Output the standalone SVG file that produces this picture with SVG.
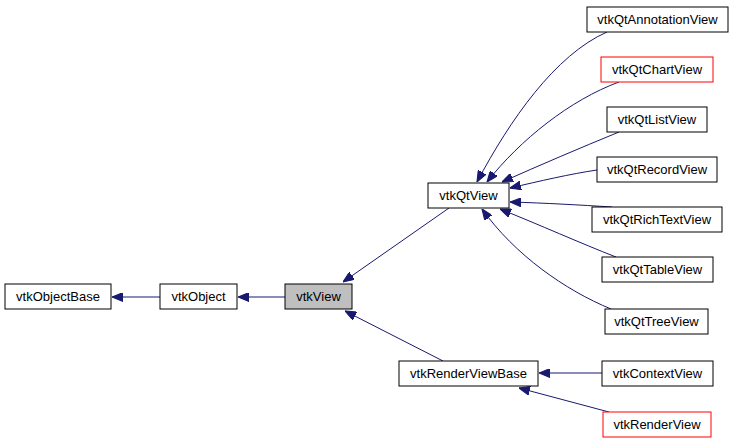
<svg xmlns="http://www.w3.org/2000/svg" width="733" height="443" viewBox="0 0 733 443">
<style>
.n rect{fill:#fff;stroke:#000;stroke-width:1}
.n.red rect{stroke:#ff0000}
.n.cur rect{fill:#bfbfbf}
.n text{font-family:"Liberation Sans",Arial,sans-serif;font-size:13px;text-anchor:middle;fill:#000}
.e path{fill:none;stroke:#191970;stroke-width:1;marker-end:url(#ah)}
</style>
<defs>
<marker id="ah" viewBox="0 0 10 8" refX="10" refY="4" markerWidth="11" markerHeight="9" markerUnits="userSpaceOnUse" orient="auto">
<path d="M0,0 L10,4 L0,8 z" fill="#191970" stroke="#191970"/>
</marker>
</defs>
<rect width="733" height="443" fill="#fff"/>
<g id="edges" class="e">
<path d="M160,297 L112,297"/>
<path d="M285,297 L238,297"/>
<path d="M449,208 L343,282"/>
<path d="M443,361 L345,311"/>
<path d="M602,373 L539,373"/>
<path d="M609,412 L519,388"/>
<path d="M607,32 C555,55 510,120 477,182"/>
<path d="M619,82 C570,100 520,140 487,182"/>
<path d="M619,132 C580,148 540,165 502,182"/>
<path d="M597,170 C570,174 540,181 510,188"/>
<path d="M612,207 C580,205 545,203 510,202"/>
<path d="M616,257 C580,243 540,225 500,209"/>
<path d="M611,309 C565,290 515,255 482,209"/>
</g>
<g id="vtkObjectBase" class="n"><rect x="5" y="284" width="106" height="25"/><text x="58" y="301">vtkObjectBase</text></g>
<g id="vtkObject" class="n"><rect x="160" y="284" width="77" height="25"/><text x="198.5" y="301">vtkObject</text></g>
<g id="vtkView" class="n cur"><rect x="285" y="284" width="67" height="25"/><text x="318.5" y="301">vtkView</text></g>
<g id="vtkQtView" class="n"><rect x="428" y="183" width="81" height="25"/><text x="468.5" y="200">vtkQtView</text></g>
<g id="vtkRenderViewBase" class="n"><rect x="399" y="361" width="139" height="25"/><text x="468.5" y="378">vtkRenderViewBase</text></g>
<g id="vtkContextView" class="n"><rect x="602" y="361" width="111" height="25"/><text x="657.5" y="378">vtkContextView</text></g>
<g id="vtkRenderView" class="n red"><rect x="603" y="412" width="108" height="25"/><text x="657" y="429">vtkRenderView</text></g>
<g id="vtkQtAnnotationView" class="n"><rect x="587" y="7" width="141" height="25"/><text x="657.5" y="24">vtkQtAnnotationView</text></g>
<g id="vtkQtChartView" class="n red"><rect x="601" y="57" width="112" height="25"/><text x="657" y="74">vtkQtChartView</text></g>
<g id="vtkQtListView" class="n"><rect x="607" y="107" width="100" height="25"/><text x="657" y="124">vtkQtListView</text></g>
<g id="vtkQtRecordView" class="n"><rect x="597" y="157" width="120" height="25"/><text x="657" y="174">vtkQtRecordView</text></g>
<g id="vtkQtRichTextView" class="n"><rect x="592" y="207" width="130" height="25"/><text x="657" y="224">vtkQtRichTextView</text></g>
<g id="vtkQtTableView" class="n"><rect x="602" y="257" width="111" height="25"/><text x="657.5" y="274">vtkQtTableView</text></g>
<g id="vtkQtTreeView" class="n"><rect x="605" y="309" width="103" height="25"/><text x="656.5" y="326">vtkQtTreeView</text></g>
</svg>
